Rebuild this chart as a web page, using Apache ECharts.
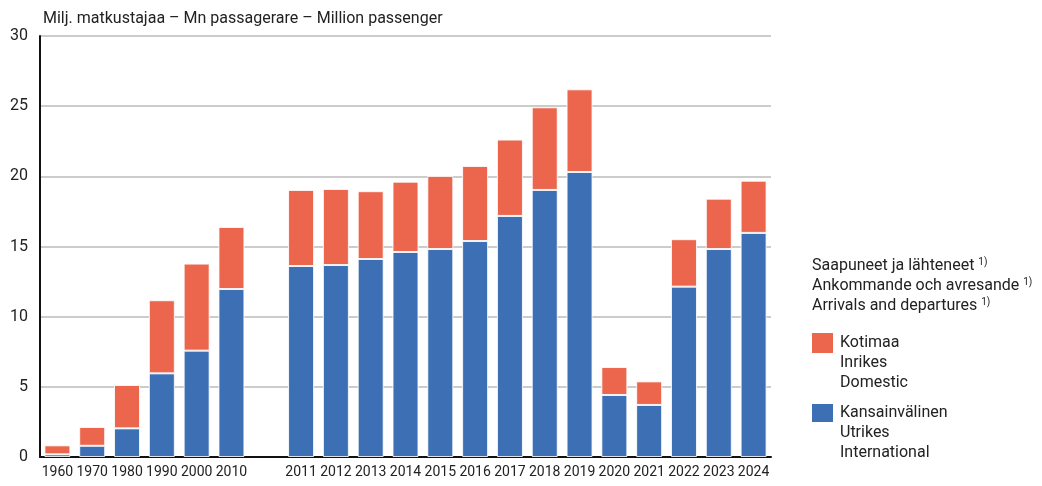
<!DOCTYPE html>
<html>
<head>
<meta charset="utf-8">
<script src="https://cdn.jsdelivr.net/npm/echarts@6/dist/echarts.min.js"></script>
<style>html,body{margin:0;padding:0;background:#fff}#c{width:1042px;height:486px}</style>
</head>
<body>
<div id="c"></div>
<script>
var categories = ['1960','1970','1980','1990','2000','2010','','2011','2012','2013','2014','2015','2016','2017','2018','2019','2020','2021','2022','2023','2024'];
var international = [0.19,0.80,2.04,5.96,7.58,11.97,null,13.61,13.68,14.11,14.61,14.82,15.39,17.18,19.03,20.31,4.42,3.71,12.14,14.82,15.97];
var total = [0.83,2.14,5.13,11.17,13.78,16.39,null,19.03,19.10,18.94,19.62,20.03,20.74,22.62,24.92,26.20,6.41,5.39,15.52,18.41,19.69];
var domestic = total.map(function(t,i){ return t===null ? null : +(t - international[i]).toFixed(2); });
var yTicks = [0,5,10,15,20,25,30];
var title = 'Milj. matkustajaa – Mn passagerare – Million passenger';
var legendHeader = ['Saapuneet ja lähteneet','Ankommande och avresande','Arrivals and departures'];
var domesticName = ['Kotimaa','Inrikes','Domestic'];
var intlName = ['Kansainvälinen','Utrikes','International'];

var RED = '#EC654D', BLUE = '#3D6FB5';
var FONT = 'Roboto';
var chart = echarts.init(document.getElementById('c'), null, {renderer:'canvas'});
function hdr(t, y){
  return {type:'text', left:812, top:y, style:{text:t+' {s|1)}', font:'16px '+FONT, fill:'#222',
    rich:{s:{fontSize:10, verticalAlign:'top', padding:[0,0,8,0], fill:'#222', fontFamily:FONT}}}};
}
var graphics = [
  hdr(legendHeader[0],257), hdr(legendHeader[1],277), hdr(legendHeader[2],297),
  {type:'rect', shape:{x:812,y:333,width:21,height:20}, style:{fill:RED}},
  {type:'text', left:840, top:333, style:{text:domesticName.join('\n'), font:'16px '+FONT, fill:'#222', lineHeight:20}},
  {type:'rect', shape:{x:812,y:404,width:21,height:18}, style:{fill:BLUE}},
  {type:'text', left:840, top:403, style:{text:intlName.join('\n'), font:'16px '+FONT, fill:'#222', lineHeight:20}}
];
chart.setOption({
  animation:false,
  textStyle:{fontFamily:FONT},
  title:{text:title, left:38, top:6, textStyle:{fontSize:16, fontWeight:'normal', color:'#222', fontFamily:FONT}},
  grid:{left:40, right:271, top:36, bottom:29, containLabel:false},
  legend:{show:false, data:['Domestic','International']},
  xAxis:{type:'category', data:categories,
    axisLine:{lineStyle:{color:'#111', width:2}},
    axisTick:{show:false},
    axisLabel:{color:'#222', fontSize:14, interval:0, margin:8}},
  yAxis:{type:'value', min:yTicks[0], max:yTicks[yTicks.length-1], interval:5,
    axisLine:{show:true, lineStyle:{color:'#111', width:2}},
    axisTick:{show:false},
    axisLabel:{color:'#222', fontSize:16, margin:12},
    splitLine:{lineStyle:{color:'#cccccc', width:2}}},
  series:[
    {name:'International', type:'bar', stack:'t', data:international, barWidth:26,
      itemStyle:{color:BLUE, borderColor:'rgba(255,255,255,0.85)', borderWidth:1}},
    {name:'Domestic', type:'bar', stack:'t', data:domestic, barWidth:26,
      itemStyle:{color:RED, borderColor:'rgba(255,255,255,0.85)', borderWidth:1}}
  ],
  graphic:graphics
});
</script>
</body>
</html>
